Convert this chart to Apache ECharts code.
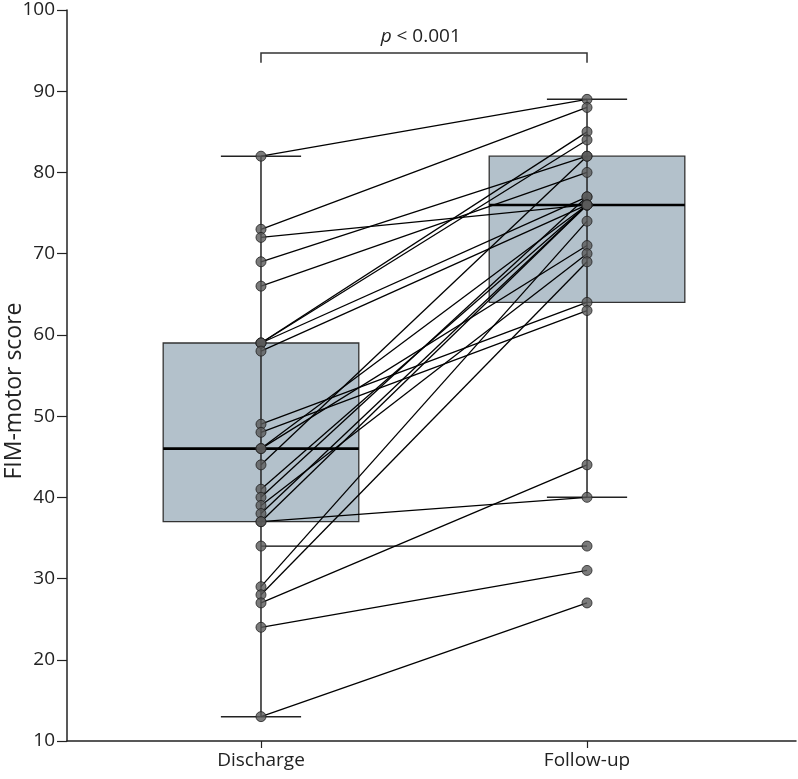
<!DOCTYPE html>
<html><head><meta charset="utf-8">
<script src="https://cdn.jsdelivr.net/npm/echarts@6/dist/echarts.min.js"></script>
<style>html,body{margin:0;padding:0;background:#fff}#c{width:798px;height:779px}</style>
</head><body><div id="c"></div>
<script>
// ---- data ----
const groups = ['Discharge', 'Follow-up'];
const yMin = 10, yMax = 100, yStep = 10;
const dischargeScores = [82,73,72,69,66,59,59,59,58,49,48,46,46,44,41,40,39,38,37,37,34,29,28,27,24,13];
const followupScores  = [89,88,76,82,80,85,84,77,76,64,63,76,71,82,76,77,70,76,76,40,34,74,69,44,31,27];
const dischargeBox = [13,37,46,59,82]; // min, Q1, median, Q3, max
const followupBox  = [40,64,76,82,89];
const pText = 'p < 0.001';

// ---- chart ----
const FONT = 'Open Sans';
const INK = '#222';
const chart = echarts.init(document.getElementById('c'), null, {renderer: 'canvas'});

const boxData = [[1].concat(dischargeBox), [2].concat(followupBox)];
const pairData = dischargeScores.map((d, i) => [1, d, 2, followupScores[i]]);
const pointData = dischargeScores.map(v => [1, v]).concat(followupScores.map(v => [2, v]));

function renderBox(params, api) {
  const x = api.value(0);
  const mn = api.value(1), q1 = api.value(2), md = api.value(3), q3 = api.value(4), mx = api.value(5);
  const half = 0.3, cap = 0.123;
  const bl = api.coord([x - half, q1]), tr = api.coord([x + half, q3]);
  const m1 = api.coord([x - half, md]), m2 = api.coord([x + half, md]);
  const w1 = api.coord([x, mn]), w2 = api.coord([x, mx]);
  const cl1 = api.coord([x - cap, mn]), cr1 = api.coord([x + cap, mn]);
  const cl2 = api.coord([x - cap, mx]), cr2 = api.coord([x + cap, mx]);
  return {
    type: 'group',
    children: [
      {type: 'rect', shape: {x: bl[0], y: tr[1], width: tr[0] - bl[0], height: bl[1] - tr[1]},
       style: {fill: '#b3c1cb', stroke: '#333', lineWidth: 1.3}},
      {type: 'line', shape: {x1: w1[0], y1: w1[1], x2: w2[0], y2: w2[1]}, style: {stroke: INK, lineWidth: 1.5}},
      {type: 'line', shape: {x1: cl1[0], y1: cl1[1], x2: cr1[0], y2: cr1[1]}, style: {stroke: INK, lineWidth: 1.5}},
      {type: 'line', shape: {x1: cl2[0], y1: cl2[1], x2: cr2[0], y2: cr2[1]}, style: {stroke: INK, lineWidth: 1.5}},
      {type: 'line', shape: {x1: m1[0], y1: m1[1], x2: m2[0], y2: m2[1]}, style: {stroke: '#000', lineWidth: 2.6}}
    ]
  };
}

function renderPair(params, api) {
  const a = api.coord([api.value(0), api.value(1)]);
  const b = api.coord([api.value(2), api.value(3)]);
  return {type: 'line', shape: {x1: a[0], y1: a[1], x2: b[0], y2: b[1]}, style: {stroke: '#000', lineWidth: 1.3}};
}

function renderBracket(params, api) {
  const top = 94.7, foot = 93.5, txt = 96.75;
  const p1 = api.coord([1, foot]), p2 = api.coord([1, top]), p3 = api.coord([2, top]), p4 = api.coord([2, foot]);
  const t = api.coord([1.49, txt]);
  return {
    type: 'group',
    children: [
      {type: 'polyline', shape: {points: [p1, p2, p3, p4]}, style: {stroke: '#333', lineWidth: 1.5, fill: null}},
      {type: 'text', x: t[0], y: t[1], style: {
        text: '{i|p}' + pText.slice(1), align: 'center', verticalAlign: 'middle',
        fontFamily: FONT, fontSize: 19, fill: INK,
        rich: {i: {fontStyle: 'italic', fontFamily: FONT, fontSize: 19, fill: INK}}
      }}
    ]
  };
}

const option = {
  animation: false,
  backgroundColor: '#fff',
  grid: {left: 67, right: 2, top: 10, bottom: 38, containLabel: false},
  xAxis: {
    type: 'value', min: 0.405, max: 2.641,
    splitLine: {show: false},
    axisLine: {show: true, lineStyle: {color: INK, width: 1.5}},
    axisTick: {show: true, customValues: [1, 2], length: 7, lineStyle: {color: INK, width: 1.2}},
    axisLabel: {show: true, customValues: [1, 2], formatter: v => groups[Math.round(v) - 1],
                color: INK, fontSize: 19, fontFamily: FONT, margin: 10}
  },
  yAxis: {
    type: 'value', min: yMin, max: yMax, interval: yStep,
    splitLine: {show: false},
    axisLine: {show: true, lineStyle: {color: INK, width: 1.5}},
    axisTick: {show: true, length: 10, lineStyle: {color: INK, width: 1.2}},
    axisLabel: {color: INK, fontSize: 19, fontFamily: FONT, margin: 12}
  },
  graphic: [{
    type: 'text', x: 14, y: 391, rotation: Math.PI / 2,
    style: {text: 'FIM-motor score', align: 'center', verticalAlign: 'middle',
            fontFamily: FONT, fontSize: 23, fill: INK}
  }],
  series: [
    {type: 'custom', renderItem: renderBox, data: boxData, encode: {x: 0, y: [1, 2, 3, 4, 5]}, z: 1, clip: false},
    {type: 'custom', renderItem: renderPair, data: pairData, encode: {x: [0, 2], y: [1, 3]}, z: 2, clip: false},
    {type: 'scatter', data: pointData, symbol: 'circle', symbolSize: 10,
     itemStyle: {color: '#5a5a5a', borderColor: '#222', borderWidth: 1}, z: 3},
    {type: 'custom', renderItem: renderBracket, data: [[1, 2, 93.5, 94.7, 96.75]], encode: {x: [0, 1], y: [2, 3, 4]}, z: 4, clip: false}
  ]
};
chart.setOption(option);
</script>
</body></html>
